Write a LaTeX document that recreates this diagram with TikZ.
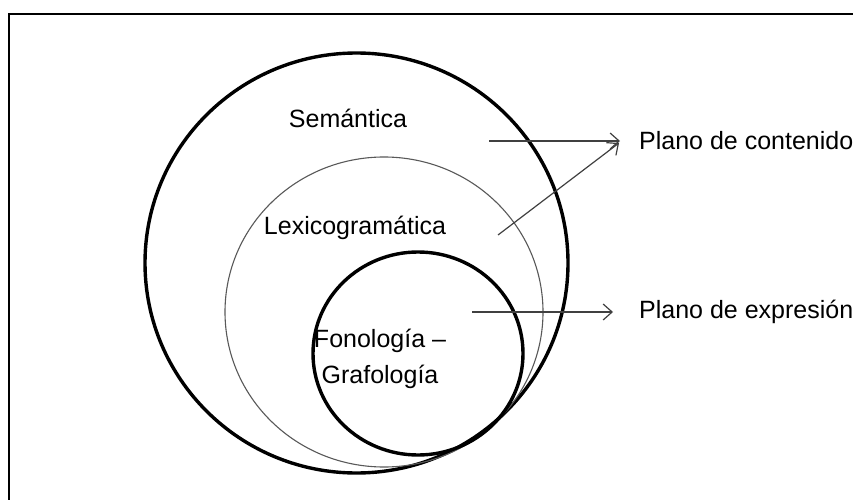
\documentclass[tikz,border=0pt]{standalone}
\usepackage{fontspec}
\setmainfont{Liberation Sans}
\usetikzlibrary{arrows.meta}
\tikzset{
  thickring/.style={draw=black,line width=3.4pt},
  thinring/.style={draw=black!65,line width=1.1pt},
  lbl/.style={font=\fontsize{25}{36}\selectfont,inner sep=0pt,align=center},
  pointer/.style={draw=black!75,line width=1.2pt,-{Straight Barb[length=9pt,width=16pt,line width=1.2pt]}}
}
\begin{document}
\begin{tikzpicture}[x=1pt,y=-1pt]
\useasboundingbox (0,0) rectangle (853,500);
\fill[white] (0,0) rectangle (853,500);
% frame
\draw[line width=2.2pt] (9,520) -- (9,14) -- (870,14);
% rings
\draw[thickring] (356.5,263) ellipse [x radius=211.5, y radius=210];
\draw[thinring] (384,312) ellipse [x radius=159, y radius=155];
\draw[thickring] (418,353.5) ellipse [x radius=105, y radius=101.5];
% labels
\node[lbl] (sem) at (348,118) {Semántica};
\node[lbl] (lex) at (355,228) {Lexicogramática};
\node[lbl] (fon) at (380,359) {Fonología –\\Grafología};
\node[lbl,anchor=west] (cont) at (639,141) {Plano de contenido};
\node[lbl,anchor=west] (expr) at (639,312) {Plano de expresión};
% arrow end points
\coordinate (a1s) at (489,141);
\coordinate (a1e) at (620,141);
\coordinate (a2s) at (498,235);
\coordinate (a2e) at (619,143);
\coordinate (a3s) at (472,312);
\coordinate (a3e) at (613,312);
\draw[pointer] (a1s) -- (a1e);
\draw[pointer] (a2s) -- (a2e);
\draw[pointer] (a3s) -- (a3e);
\end{tikzpicture}
\end{document}
